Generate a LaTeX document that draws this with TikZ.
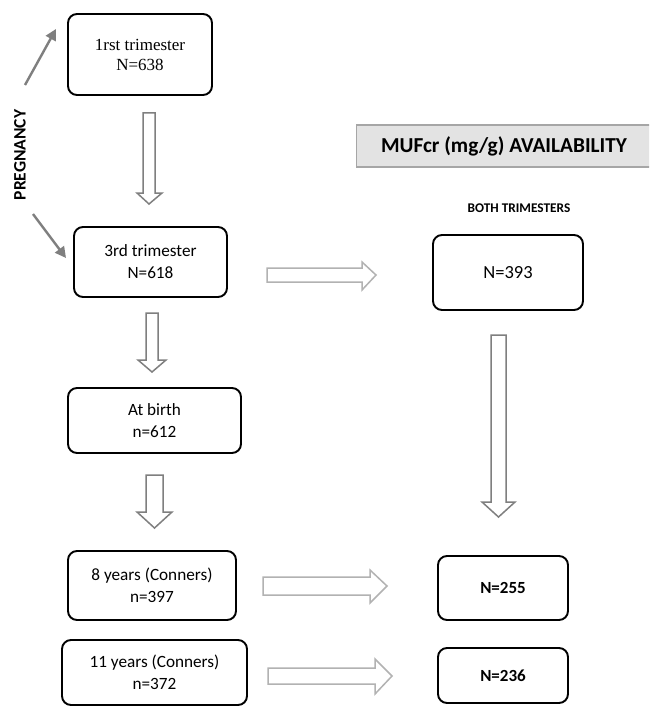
\documentclass[tikz,border=0pt]{standalone}
\usepackage{fontspec}
\setmainfont{Carlito}
\newfontfamily\serifA{Liberation Serif}
\usetikzlibrary{arrows.meta}
\definecolor{dkgray}{HTML}{7F7F7F}
\definecolor{ltgray}{HTML}{B2B2B2}
\definecolor{hdrfill}{HTML}{E3E3E3}
\definecolor{hdrline}{HTML}{A6A6A6}
\newcommand\blockdown[7]{% x1 x2 y1 yh hx1 hx2 ytip
  \draw[blockarrow,draw=dkgray] (#1,#3) -- (#2,#3) -- (#2,#4) -- (#6,#4) -- ({(#1+#2)/2},#7) -- (#5,#4) -- (#1,#4) -- cycle;}
\newcommand\blockright[7]{% y1 y2 x1 xh hy1 hy2 xtip
  \draw[blockarrow,draw=ltgray] (#3,#1) -- (#4,#1) -- (#4,#5) -- (#7,{(#1+#2)/2}) -- (#4,#6) -- (#4,#2) -- (#3,#2) -- cycle;}
\begin{document}
\begin{tikzpicture}[x=1pt,y=-1pt,
  box/.style={draw=black,line width=1.9pt,rounded corners=9pt,align=center,inner sep=0pt,
    font=\fontsize{17.2}{22}\selectfont},
  blockarrow/.style={line width=1.5pt,fill=white,line join=miter},
  preg/.style={draw=dkgray,line width=2.4pt,-{Triangle[length=11pt,width=11pt]}}]
\useasboundingbox (0,0) rectangle (649,706);
\clip (0,0) rectangle (649,706);
\fill[white] (0,0) rectangle (649,706);

% left column boxes
\node[box,minimum width=144pt,minimum height=81pt,font=\serifA\fontsize{17}{20}\selectfont] (t1) at (140,54.5) {1rst trimester\\N=638};
\node[box,minimum width=153pt,minimum height=70pt] (t3) at (150.5,262) {3rd trimester\\N=618};
\node[box,minimum width=173pt,minimum height=65pt] (birth) at (154.5,420.5) {At birth\\n=612};
\node[box,minimum width=168pt,minimum height=69pt] (y8) at (152,585.5) {8 years (Conners)\\n=397};
\node[box,minimum width=185pt,minimum height=65pt] (y11) at (154.5,672.5) {11 years (Conners)\\n=372};

% right column
\node[draw=hdrline,fill=hdrfill,line width=1.2pt,minimum width=310pt,minimum height=42pt,inner sep=0pt,anchor=west] (hdr) at (356,146) {};
\node[font=\bfseries\fontsize{21.3}{24}\selectfont] (hdrtxt) at (504,146.5) {MUFcr (mg/g) AVAILABILITY};
\node[font=\bfseries\fontsize{13.3}{15}\selectfont] (both) at (519,208) {BOTH TRIMESTERS};
\node[box,minimum width=150pt,minimum height=75pt,font=\fontsize{18.5}{20}\selectfont] (n393) at (508,272.5) {N=393};
\node[box,minimum width=130pt,minimum height=64pt,font=\bfseries\fontsize{17}{20}\selectfont] (n255) at (503,588) {N=255};
\node[box,minimum width=130pt,minimum height=55pt,font=\bfseries\fontsize{17}{20}\selectfont] (n236) at (503,675.5) {N=236};

% pregnancy label and arrows
\node[rotate=90,font=\bfseries\fontsize{17.5}{18}\selectfont] (preglbl) at (20,155) {PREGNANCY};
\coordinate (pu1) at (25,85);
\coordinate (pu2) at (56,29);
\coordinate (pd1) at (33,214);
\coordinate (pd2) at (66,258);
\draw[preg] (pu1) -- (pu2);
\draw[preg] (pd1) -- (pd2);

% vertical block arrows
\blockdown{143}{155}{113}{193}{137}{162}{204}
\blockdown{146}{158}{313}{360}{138}{166}{372}
\blockdown{146}{163}{475}{512}{137}{172}{528}
\blockdown{491}{506}{335}{502}{482}{515}{517}

% horizontal block arrows
\blockright{268}{282}{267}{362}{262}{290}{376}
\blockright{577}{595}{263}{370}{570}{603}{387}
\blockright{668}{684}{268}{375}{659}{694}{392}
\end{tikzpicture}
\end{document}
